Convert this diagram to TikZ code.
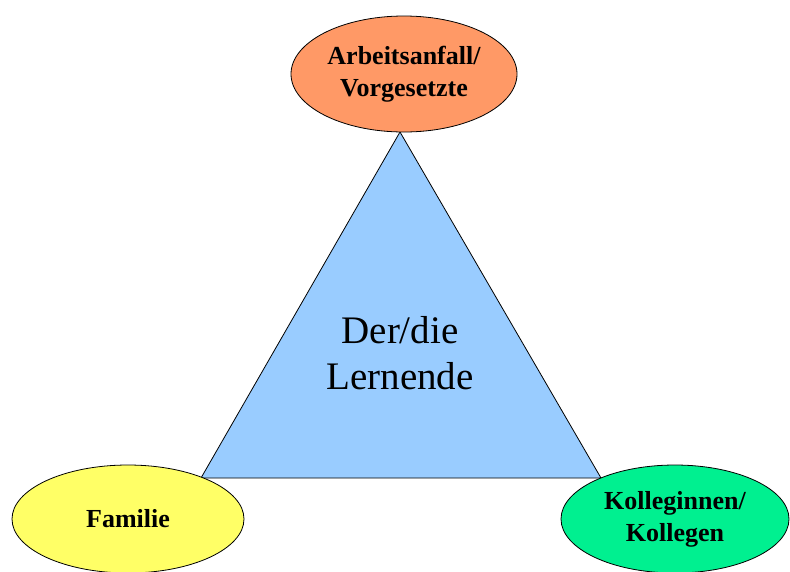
\documentclass[tikz,border=0pt]{standalone}
\usepackage{fontspec}
\setmainfont{Liberation Serif}
\usetikzlibrary{shapes.geometric}
\definecolor{orangeE}{HTML}{FF9966}
\definecolor{yellowE}{HTML}{FFFF66}
\definecolor{greenE}{HTML}{00F090}
\definecolor{blueT}{HTML}{99CCFF}
\tikzset{
  ell/.style={ellipse, draw=black, line width=0.8pt, inner sep=0pt, align=center,
    font=\fontsize{26}{32}\selectfont\bfseries},
}
\begin{document}
\begin{tikzpicture}[x=1pt,y=-1pt]
\useasboundingbox (0,0) rectangle (790,571);
\coordinate (A) at (400,132);
\coordinate (B) at (201,478);
\coordinate (C) at (601,478);
\draw[fill=blueT, line width=0.8pt, line join=miter] (A) -- (B) -- (C) -- cycle;
\node[font=\fontsize{39}{46}\selectfont, align=center] (lern) at (400,353) {Der/die\\Lernende};
\node[ell, fill=orangeE, minimum width=226pt, minimum height=116pt] (top) at (404,74) {Arbeitsanfall/\\Vorgesetzte};
\node[ell, fill=yellowE, minimum width=232pt, minimum height=108pt] (fam) at (128,519) {\raisebox{-2pt}{Familie}};
\node[ell, fill=greenE, minimum width=228pt, minimum height=108pt] (kol) at (675,519) {Kolleginnen/\\Kollegen};
\end{tikzpicture}
\end{document}
